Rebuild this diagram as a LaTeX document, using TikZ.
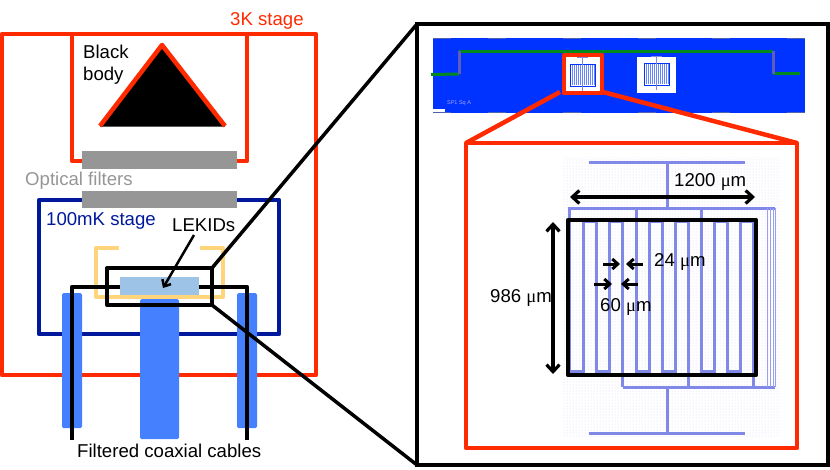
\documentclass[tikz,border=0pt]{standalone}
\usepackage{fontspec}
\setmainfont{Liberation Sans}
\newfontfamily\mufont{Liberation Serif}
\usepackage{tikz}
\usetikzlibrary{arrows.meta,patterns}
\definecolor{stagered}{HTML}{FF2A00}
\definecolor{stagenavy}{HTML}{00189C}
\definecolor{holderyellow}{HTML}{FFD47A}
\definecolor{waferblue}{HTML}{9DC3E6}
\definecolor{cableblue}{HTML}{4580FF}
\definecolor{chipblue}{HTML}{0033FF}
\definecolor{filtergray}{HTML}{969696}
\definecolor{meanderblue}{HTML}{8088E8}
\definecolor{feedgreen}{HTML}{008A1E}
\newcommand{\um}{{\mufont μ}m}
\tikzset{
  redline/.style={draw=stagered,line width=4.5pt,line join=round},
  blackline/.style={draw=black,line width=4.5pt,line join=round},
  cable/.style={fill=cableblue,rounded corners=1.5pt},
  filterplate/.style={fill=filtergray},
  meander/.style={draw=meanderblue,line width=3pt},
  dimarrow/.style={draw=black,line width=3.2pt,{Straight Barb[length=7pt,width=13pt]}-{Straight Barb[length=7pt,width=13pt]}},
  smallarrow/.style={draw=black,line width=3pt,-{Straight Barb[length=5.5pt,width=10pt]}},
  label/.style={font=\fontsize{18.6}{22}\selectfont,inner sep=0pt,anchor=base west},
  minilekid/.pic={
    \draw[chipblue,line width=0.8pt] (0,0) rectangle (25,22);
    \draw[meanderblue,line width=0.8pt] (12.5,-7) -- (12.5,27);
    \draw[meanderblue,line width=0.8pt] (7,-7) -- (18,-7);
    \foreach \xa in {2,4,...,24} {\draw[chipblue!60,line width=0.7pt] (\xa,1) -- (\xa,21);}
  }
}
\begin{document}
\begin{tikzpicture}[x=1pt,y=-1pt]
\useasboundingbox (0,0) rectangle (830,469);
\coordinate (panelnw) at (417,24);
\coordinate (panelse) at (828,465);
\coordinate (panelsw) at (417,465);
\coordinate (zoomnw) at (107,268);
\coordinate (zoomse) at (212,305);
\coordinate (zoomne) at (212,268);
\coordinate (pixelnw) at (564,55);
\coordinate (pixelse) at (602,93);
\coordinate (devicenw) at (466,143);
\coordinate (devicene) at (797,143);
\coordinate (devicese) at (797,448);
\coordinate (pixelsw) at (560,92);
\coordinate (pixelne) at (603,92);
\coordinate (leftwire) at (72,440);
\coordinate (rightwire) at (247,440);
% cryostat
\draw[redline] (72,34) -- (72,161) -- (247,161) -- (247,34);
\draw[redline] (2,375) -- (2,34) -- (316,34) -- (316,375) -- cycle;
\fill[black] (162,45) -- (225,126.5) -- (100,126.5) -- cycle;
\draw[redline] (100,126) -- (162,45) -- (225,126);
\draw[stagenavy,line width=4.5pt,line join=round] (39,200) rectangle (279,334);
\fill[filterplate] (82,151) rectangle (237,169);
\fill[filterplate] (82,191) rectangle (237,208);
\draw[holderyellow,line width=4.5pt,line join=round] (119,248) -- (96,248) -- (96,297) -- (223,297) -- (223,248) -- (200,248);
\fill[cable] (62,293) rectangle (82,428);
\fill[cable] (237,293) rectangle (257,428);
\fill[cable] (140,299) rectangle (179,439);
\fill[waferblue] (120,277) rectangle (199,295);
\draw[blackline] (leftwire) -- (72,287) -- (120,287);
\draw[blackline] (199,287) -- (247,287) -- (rightwire);
\draw[draw=black,line width=4pt,line join=round] (zoomnw) rectangle (zoomse);
\draw[black,line width=3.5pt] (zoomne) -- (panelnw);
\draw[black,line width=3.5pt] (zoomse) -- (panelsw);
\node[label,text=stagered] (threek) at (230,25) {3K stage};
\node[label,anchor=west,align=left] (blackbody) at (83,65) {Black\\body};
\node[label,text=filtergray] (optical) at (25,185) {Optical filters};
\node[label,text=stagenavy] (millikelvin) at (46,225) {100mK stage};
\node[label] (lekids) at (172,231) {LEKIDs};
\node[label] (coax) at (77,457) {Filtered coaxial cables};
\coordinate (lekidtip) at (163,288);
\draw[draw=black,line width=2.5pt,-{Straight Barb[length=5.5pt,width=10pt]}] (194,235) -- (lekidtip);
% right panel
\fill[white] (panelnw) rectangle (panelse);
\draw[black,line width=4.5pt] (panelnw) rectangle (panelse);
\fill[chipblue] (433,38) rectangle (805,113);
\foreach \xa in {433,488,563,638,712,787} {
  \draw[gray!60!chipblue,line width=1pt] (\xa,38.5) -- (\xa+18,38.5);
  \draw[gray!60!chipblue,line width=1pt] (\xa,112) -- (\xa+18,112);
}
\draw[feedgreen,line width=3pt] (431,74.5) -- (459,74);
\draw[feedgreen,line width=3pt] (459,51) -- (773,51);
\draw[feedgreen,line width=3pt] (773,73) -- (800,73);
\draw[blue!40!gray!90,line width=3pt] (459,51) -- (459,74);
\draw[blue!40!gray!90,line width=3pt] (773,51) -- (773,74);
\fill[white] (pixelnw) rectangle (pixelse);
\fill[white] (637,57) rectangle (676,93);
\path (570,64) pic {minilekid};
\path (644,63) pic {minilekid};
\draw[redline] (pixelnw) rectangle (pixelse);
\fill[white] (433,109) rectangle (445,112);
\node[inner sep=0pt,font=\fontsize{5.5}{6}\selectfont,text=blue!35!white] (chipname) at (459,103) {SP1 Sq A};
\draw[redline] (pixelsw) -- (devicenw);
\draw[redline] (pixelne) -- (devicene);
\draw[redline] (devicenw) rectangle (devicese);
% resonator
\fill[pattern=dots,pattern color=meanderblue!35] (562,157) rectangle (780,437);
\draw[meander] (589,162) -- (745,162);
\draw[meander] (667,162) -- (667,208);
\draw[meander] (775,208) -- (569.5,208) -- (569.5,371) -- (583.3,371) -- (583.3,221) -- (596.4,221) -- (596.4,371) -- (609.5,371) -- (609.5,221) -- (622.7,221) -- (622.7,387);
\draw[meander] (636,208) -- (636,371) -- (649,371) -- (649,221) -- (662,221) -- (662,371) -- (675,371) -- (675,221) -- (688,221) -- (688,387);
\draw[meander] (701,208) -- (701,371) -- (714,371) -- (714,221) -- (727,221) -- (727,371) -- (740,371) -- (740,221) -- (753,221) -- (753,387);
\draw[meander] (622.7,387) -- (775,387);
\foreach \xa in {767,770,773,775} {\draw[meanderblue!80,line width=0.8pt] (\xa,208) -- (\xa,387);}
\draw[meander] (667,387) -- (667,433);
\draw[meander] (589,433) -- (745,433);
\draw[blackline] (568,220) rectangle (756,375);
\coordinate (widthl) at (570,197);
\coordinate (widthr) at (755,197);
\coordinate (heightt) at (553,222);
\coordinate (heightb) at (553,374);
\draw[dimarrow] (widthl) -- (widthr);
\draw[dimarrow] (heightt) -- (heightb);
\coordinate (gapla) at (603,264);
\coordinate (gaplb) at (620,264);
\coordinate (gapra) at (643,264);
\coordinate (gaprb) at (626,264);
\coordinate (pitchla) at (594,284);
\coordinate (pitchlb) at (612,284);
\coordinate (pitchra) at (638,284);
\coordinate (pitchrb) at (621,284);
\draw[smallarrow] (gapla) -- (gaplb);
\draw[smallarrow] (gapra) -- (gaprb);
\draw[smallarrow] (pitchla) -- (pitchlb);
\draw[smallarrow] (pitchra) -- (pitchrb);
\node[label] (widthtext) at (674,186) {1200 \um};
\node[label] (heighttext) at (490,302) {986 \um};
\node[label] (gaptext) at (654,266) {24 \um};
\node[label] (pitchtext) at (600,311) {60 \um};
\end{tikzpicture}
\end{document}
